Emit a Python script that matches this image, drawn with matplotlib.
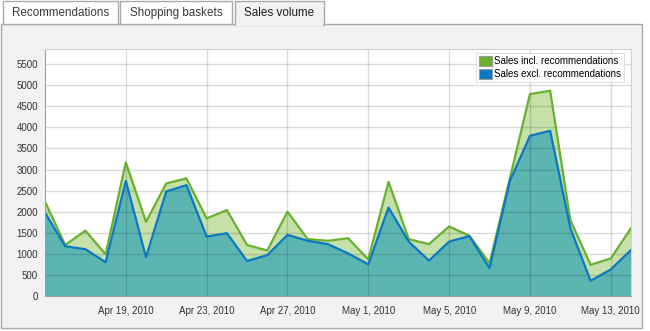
import matplotlib
matplotlib.use("Agg")
import matplotlib.pyplot as plt
import matplotlib.dates as mdates
from matplotlib.patches import Rectangle, Patch
import pandas as pd

plt.rcParams["font.family"] = ["Liberation Sans", "DejaVu Sans"]

# daily sales, Apr 15 - May 14 2010
dates = pd.date_range("2010-04-15", periods=30, freq="D")
sales_incl = [2240, 1210, 1550, 990, 3170, 1760, 2670, 2790, 1840, 2040,
              1210, 1080, 2000, 1350, 1310, 1370, 870, 2710, 1350, 1230,
              1650, 1430, 780, 2780, 4790, 4870, 1800, 740, 890, 1610]
sales_excl = [1980, 1180, 1110, 800, 2730, 920, 2480, 2630, 1410, 1490,
              830, 970, 1450, 1310, 1230, 1010, 750, 2100, 1290, 840,
              1290, 1420, 660, 2720, 3800, 3920, 1610, 360, 630, 1090]
tab_labels = ["Recommendations", "Shopping baskets", "Sales volume"]
series_labels = ["Sales incl. recommendations", "Sales excl. recommendations"]

W, H = 650, 331
fig = plt.figure(figsize=(W / 100, H / 100), dpi=100)
fig.patch.set_facecolor("white")


def box(x0, y0, x1, y1, **kw):
    # rectangle in pixel coordinates (y measured from the top)
    r = Rectangle((x0 / W, 1 - y1 / H), (x1 - x0) / W, (y1 - y0) / H,
                  transform=fig.transFigure, **kw)
    fig.add_artist(r)
    return r


panel_bg = "#f2f2f2"
border = "#a9a9a9"

# tab panel
box(1, 24, 642, 328, facecolor=panel_bg, edgecolor=border, linewidth=1, zorder=0)

tabs = [(3, 118), (120, 232), (235, 324)]
for i, ((x0, x1), label) in enumerate(zip(tabs, tab_labels)):
    active = i == len(tabs) - 1
    box(x0, 1, x1, 24.5 if active else 24, facecolor=panel_bg if active else "white",
        edgecolor=border, linewidth=1, zorder=1)
    if active:
        box(x0 + 0.8, 22, x1 - 0.8, 26, facecolor=panel_bg, edgecolor="none", zorder=2)
    fig.text((x0 + x1) / 2 / W, 1 - 13 / H, label, ha="center", va="center",
             fontsize=8.4, color="#1e1e1e" if active else "#3a3a3a", zorder=3)

ax = fig.add_axes([45 / W, 1 - 296 / H, (631 - 45) / W, (296 - 49) / H])
ax.set_facecolor("white")

green = "#68b12e"
blue = "#0a78c2"
ax.fill_between(dates, sales_incl, color="#c5e1a9", linewidth=0, zorder=1)
ax.fill_between(dates, sales_excl, color="#5cb5b1", linewidth=0, zorder=2)
ax.plot(dates, sales_incl, color=green, linewidth=1.6, zorder=5)
ax.plot(dates, sales_excl, color=blue, linewidth=1.6, zorder=6)

ax.set_ylim(0, 5860)
ax.set_yticks(range(0, 5501, 500))
ax.set_xlim(dates[0], dates[-1])
ax.set_xticks(pd.date_range("2010-04-19", "2010-05-13", freq="4D"))
ax.xaxis.set_major_formatter(mdates.DateFormatter("%b %-d, %Y"))

ax.grid(True, color="black", alpha=0.14, linewidth=1)
ax.set_axisbelow(False)
for gl in ax.get_xgridlines() + ax.get_ygridlines():
    gl.set_zorder(3)

ax.tick_params(length=0, labelsize=7, colors="#333333")
ax.tick_params(axis="y", pad=5)
ax.tick_params(axis="x", pad=7)
for side in ["top", "right"]:
    ax.spines[side].set_color("#d0d0d0")
for side in ["left", "bottom"]:
    ax.spines[side].set_color("#a0a0a0")
for s in ax.spines.values():
    s.set_zorder(7)

handles = [Patch(facecolor=green, edgecolor="#9a9a9a", linewidth=0.8),
           Patch(facecolor=blue, edgecolor="#9a9a9a", linewidth=0.8)]
leg = ax.legend(handles, series_labels, loc="upper right", fontsize=7,
                frameon=True, fancybox=False, handlelength=1.4, handleheight=1.2,
                handletextpad=0.2, borderpad=0.3, labelspacing=0.25,
                borderaxespad=0.3, bbox_to_anchor=(0.993, 0.995))
leg.get_frame().set_edgecolor("#d8d8d8")
leg.get_frame().set_linewidth(0.8)
leg.set_zorder(10)

fig.savefig("out.png", dpi=100)
